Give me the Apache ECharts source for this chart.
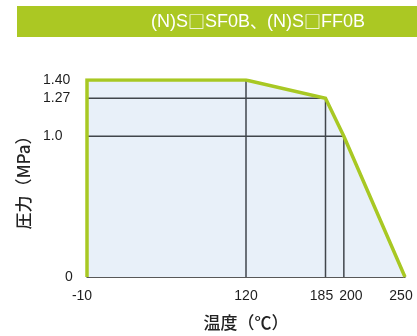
<!DOCTYPE html>
<html><head><meta charset="utf-8">
<script src="https://cdn.jsdelivr.net/npm/echarts@6/dist/echarts.min.js"></script>
<style>html,body{margin:0;padding:0;background:#fff}#c{width:417px;height:336px}</style>
</head><body><div id="c"></div>
<script>
// Data (vertices of the pressure–temperature rating envelope)
const tempC = [-10, -10, 120, 185, 200, 250];
const pressure = [0, 1.40, 1.40, 1.27, 1.0, 0];
const xTickLabels = [-10, 120, 185, 200, 250];
const yTickLabels = ['0', '1.0', '1.27', '1.40'];
const yTickValues = [0, 1.0, 1.27, 1.40];
const titleText = '(N)S□SF0B、(N)S□FF0B';

const pts = tempC.map((t, i) => [t, pressure[i]]);
const dropSeries = [];
[2, 3, 4].forEach(i => { dropSeries.push([[tempC[i], 0], [tempC[i], pressure[i]]]); });
[3, 4].forEach(i => { dropSeries.push([[tempC[0], pressure[i]], [tempC[i], pressure[i]]]); });

const xShift = {'-10': [0,10,0,0], '185': [0,8,0,0], '200': [0,0,0,14], '250': [0,8,0,0], '120': [0,0,0,0]};
const LS = 'Liberation Sans, Arial, Helvetica, sans-serif';
const CJK = 'Noto Sans CJK JP, sans-serif';

let titleRich = '';
for (const ch of titleText) {
  titleRich += (ch === '□' || ch === '、') ? '{c|' + ch + '}' : '{l|' + ch + '}';
}

const labStyle = (pad) => ({padding: pad, fontSize: 14, color: '#1e1e1e', fontFamily: LS});

const chart = echarts.init(document.getElementById('c'), null, {renderer: 'canvas'});
chart.setOption({
  animation: false,
  textStyle: {fontFamily: LS},
  graphic: [
    {type: 'rect', left: 17, top: 6, shape: {width: 400, height: 31}, style: {fill: '#abc823'}},
    {type: 'text', x: 258, y: 22, style: {
      text: titleRich, fill: '#fff', align: 'center', verticalAlign: 'middle',
      rich: {
        l: {fontFamily: LS, fontSize: 18, fill: '#fff', color: '#fff'},
        c: {fontFamily: CJK, fontSize: 17, fill: '#fff', color: '#fff'}
      }
    }}
  ],
  grid: {left: 87, right: 12, top: 80, bottom: 58},
  xAxis: {
    type: 'value', min: -10, max: 250, interval: 5,
    axisLine: {show: true, onZero: false, lineStyle: {color: '#222', width: 1.5}},
    axisTick: {show: false}, splitLine: {show: false},
    axisLabel: {
      margin: 12, color: '#1e1e1e', fontSize: 14, fontFamily: LS,
      formatter: v => xTickLabels.includes(v) ? '{p' + (v < 0 ? 'm' : '') + Math.abs(v) + '|' + v + '}' : '',
      rich: {
        pm10: labStyle(xShift['-10']), p120: labStyle(xShift['120']),
        p185: labStyle(xShift['185']), p200: labStyle(xShift['200']), p250: labStyle(xShift['250'])
      }
    },
    name: '温度（℃）', nameLocation: 'middle', nameGap: 37,
    nameTextStyle: {fontSize: 17, color: '#222', fontFamily: CJK, fontWeight: 500}
  },
  yAxis: {
    type: 'value', min: 0, max: 1.4, interval: 0.01,
    axisLine: {show: false}, axisTick: {show: false}, splitLine: {show: false},
    axisLabel: {
      margin: 44, align: 'left', color: '#1e1e1e', fontSize: 14, fontFamily: LS,
      formatter: v => {
        const k = Math.round(v * 100);
        const idx = yTickValues.findIndex(t => Math.round(t * 100) === k);
        if (idx < 0) return '';
        return idx === 0 ? '{z|' + yTickLabels[idx] + '}' : '{n|' + yTickLabels[idx] + '}';
      },
      rich: {z: labStyle([0, 0, 0, 22]), n: labStyle([0, 0, 0, 0])}
    },
    name: '圧力（MPa）', nameLocation: 'middle', nameGap: 47, nameRotate: 90,
    nameTextStyle: {fontSize: 17, color: '#222', fontFamily: CJK, fontWeight: 500}
  },
  series: [
    {type: 'line', data: pts, symbol: 'none', lineStyle: {width: 0}, areaStyle: {color: '#e8f0f9', opacity: 1}, z: 1, silent: true},
    ...dropSeries.map(d => ({type: 'line', data: d, symbol: 'none', lineStyle: {color: '#41464c', width: 1.5}, z: 2, silent: true})),
    {type: 'line', data: pts, symbol: 'none', lineStyle: {color: '#a8c823', width: 3.5, join: 'miter'}, z: 3, silent: true}
  ]
});
</script></body></html>
